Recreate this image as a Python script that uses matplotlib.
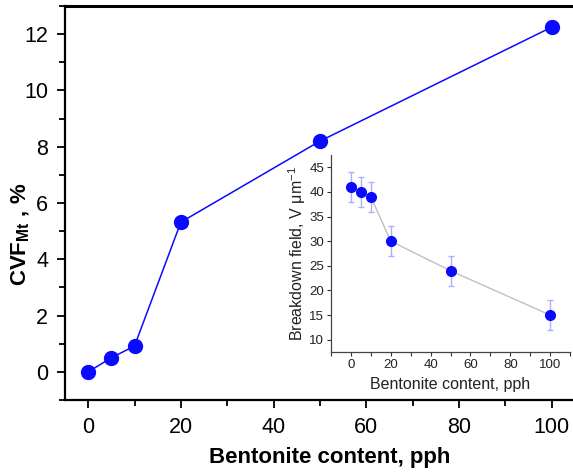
import matplotlib
matplotlib.use("Agg")
import matplotlib.pyplot as plt
from matplotlib.ticker import MultipleLocator

plt.rcParams["font.family"] = ["Liberation Sans", "DejaVu Sans"]
plt.rcParams["mathtext.fontset"] = "custom"
plt.rcParams["mathtext.rm"] = "Liberation Sans"
plt.rcParams["mathtext.bf"] = "Liberation Sans:bold"
plt.rcParams["mathtext.it"] = "Liberation Sans:italic"

# bentonite loading (pph) and clay volume fraction
bentonite = [0, 5, 10, 20, 50, 100]
cvf_mt = [0.0, 0.5, 0.92, 5.32, 8.2, 12.25]

# breakdown field of the same samples
breakdown = [41, 40, 39, 30, 24, 15]
breakdown_err = [3, 3, 3, 3, 3, 3]

BLUE = "#0a0aff"


def main_panel(fig):
    ax = fig.add_axes([0.1134, 0.1543, 0.890, 0.833])
    ax.plot(bentonite, cvf_mt, "-o", color=BLUE, lw=1.1, ms=10, zorder=3)
    ax.set_xlim(-5, 105)
    ax.set_ylim(-1, 13)
    ax.xaxis.set_major_locator(MultipleLocator(20))
    ax.xaxis.set_minor_locator(MultipleLocator(10))
    ax.yaxis.set_major_locator(MultipleLocator(2))
    ax.yaxis.set_minor_locator(MultipleLocator(1))
    ax.tick_params(which="both", direction="out", width=1.3, labelsize=15.5,
                   top=False, right=False)
    ax.tick_params(which="major", length=6, pad=6)
    ax.tick_params(which="minor", length=4)
    for side in ["left", "bottom", "top"]:
        ax.spines[side].set_linewidth(1.6)
    ax.spines["top"].set_linewidth(2.2)
    ax.spines["right"].set_visible(False)
    ax.set_xlabel("Bentonite content, pph", fontsize=16, fontweight="bold")
    ax.set_ylabel(r"$\mathbf{CVF_{Mt}}$ , %", fontsize=16, fontweight="bold")
    ax.xaxis.set_label_coords(0.52, -0.12)
    ax.yaxis.set_label_coords(-0.064, 0.42)
    return ax


def inset_panel(fig):
    ax = fig.add_axes([0.5777, 0.2558, 0.4171, 0.4165])
    ax.patch.set_alpha(0)
    ax.errorbar(bentonite, breakdown, yerr=breakdown_err, fmt="none",
                ecolor="#aab0ff", elinewidth=1.0, capsize=2.5, capthick=1.0,
                zorder=2)
    ax.plot(bentonite, breakdown, "-", color="#c0c0c0", lw=1.0, zorder=2)
    ax.plot(bentonite, breakdown, "o", color=BLUE, ms=7, zorder=3)
    ax.set_xlim(-10, 110)
    ax.set_ylim(7.5, 47.5)
    ax.xaxis.set_major_locator(MultipleLocator(20))
    ax.xaxis.set_minor_locator(MultipleLocator(10))
    ax.yaxis.set_major_locator(MultipleLocator(5))
    ax.tick_params(which="both", direction="out", width=0.8, length=3,
                   labelsize=9.5, colors="#333333", pad=2)
    ax.tick_params(labelcolor="#222222")
    for side in ["top", "right"]:
        ax.spines[side].set_visible(False)
    for side in ["left", "bottom"]:
        ax.spines[side].set_linewidth(0.9)
        ax.spines[side].set_color("#444444")
    ax.set_xlabel("Bentonite content, pph", fontsize=11.5, color="#222222",
                  labelpad=4)
    ax.set_ylabel(r"Breakdown field, V $\mathrm{\mu m^{-1}}$", fontsize=11.5,
                  color="#222222", labelpad=1)
    return ax


def main():
    fig = plt.figure(figsize=(5.73, 4.73), dpi=100)
    main_panel(fig)
    inset_panel(fig)
    fig.savefig("out.png", dpi=100)


if __name__ == "__main__":
    main()
